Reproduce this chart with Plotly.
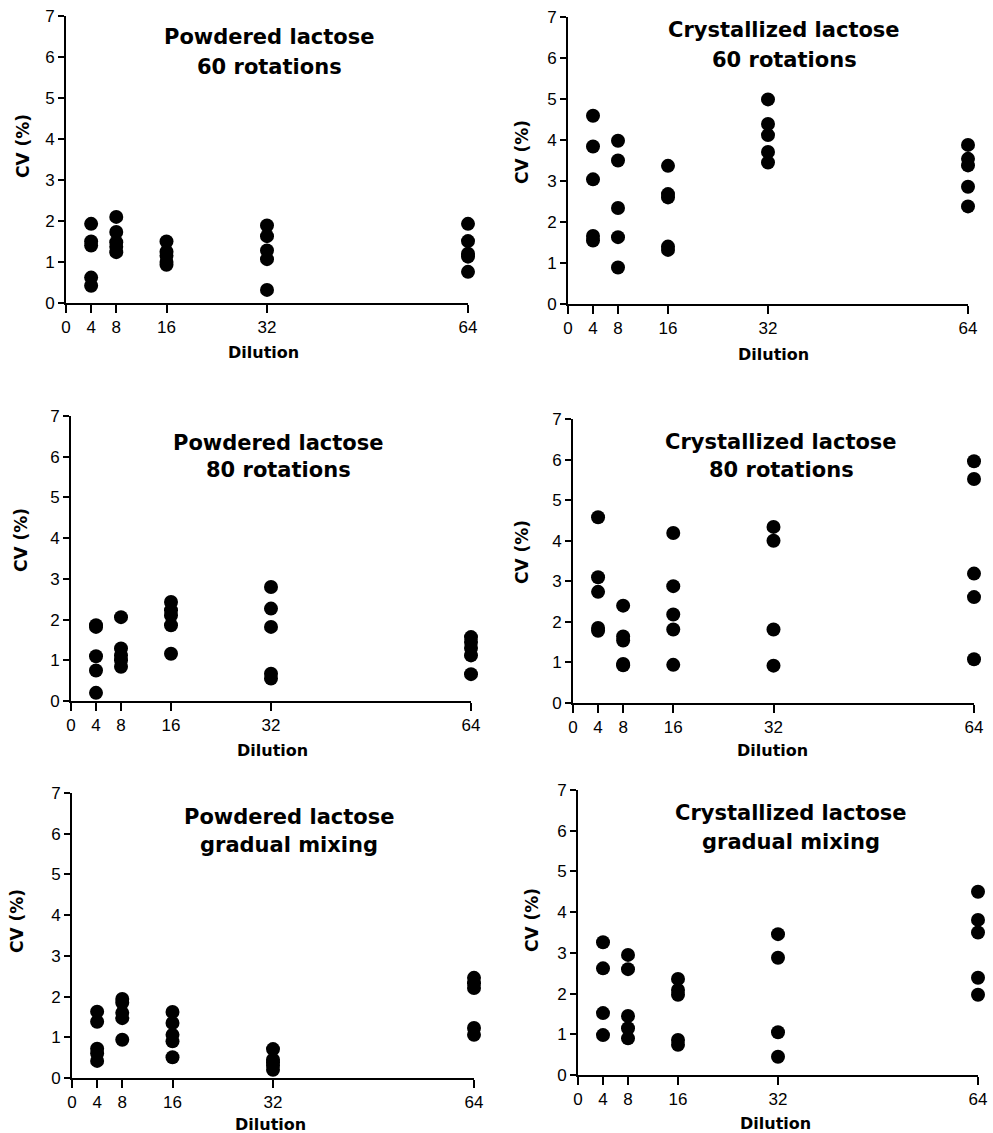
import plotly.graph_objects as go

W, H = 993, 1133

dilutions = [4, 8, 16, 32, 64]

title_line1 = ["Powdered lactose", "Crystallized lactose", "Powdered lactose",
               "Crystallized lactose", "Powdered lactose", "Crystallized lactose"]
title_line2 = ["60 rotations", "60 rotations", "80 rotations",
               "80 rotations", "gradual mixing", "gradual mixing"]

# CV (%) values per dilution, one dict per panel
powdered_60 = {
    4: [1.93, 1.50, 1.40, 0.62, 0.42],
    8: [2.10, 1.73, 1.48, 1.37, 1.24],
    16: [1.50, 1.25, 1.15, 1.00, 0.93],
    32: [1.89, 1.63, 1.28, 1.07, 0.32],
    64: [1.93, 1.51, 1.20, 1.13, 0.76],
}
crystallized_60 = {
    4: [4.59, 3.84, 3.04, 1.66, 1.55],
    8: [3.98, 3.50, 2.34, 1.63, 0.89],
    16: [3.37, 2.68, 2.60, 1.40, 1.32],
    32: [4.99, 4.39, 4.12, 3.71, 3.45],
    64: [3.88, 3.54, 3.38, 2.86, 2.38],
}
powdered_80 = {
    4: [1.86, 1.82, 1.10, 0.75, 0.20],
    8: [2.06, 1.29, 1.12, 1.00, 0.84],
    16: [2.43, 2.23, 2.10, 1.86, 1.16],
    32: [2.80, 2.27, 1.82, 0.67, 0.55],
    64: [1.57, 1.45, 1.30, 1.12, 0.66],
}
crystallized_80 = {
    4: [4.58, 3.10, 2.74, 1.85, 1.78],
    8: [2.40, 1.64, 1.54, 0.96, 0.93],
    16: [4.19, 2.88, 2.18, 1.81, 0.94],
    32: [4.34, 4.00, 1.81, 0.92],
    64: [5.96, 5.52, 3.19, 2.61, 1.08],
}
powdered_gradual = {
    4: [1.63, 1.38, 0.72, 0.60, 0.42],
    8: [1.94, 1.85, 1.60, 1.47, 0.94],
    16: [1.62, 1.35, 1.06, 0.90, 0.51],
    32: [0.71, 0.45, 0.38, 0.30, 0.20],
    64: [2.46, 2.33, 2.21, 1.23, 1.06],
}
crystallized_gradual = {
    4: [3.26, 2.62, 1.52, 0.98],
    8: [2.95, 2.60, 1.45, 1.15, 0.90],
    16: [2.36, 2.09, 1.97, 0.86, 0.74],
    32: [3.46, 2.88, 1.05, 0.45],
    64: [4.50, 3.81, 3.50, 2.39, 1.97],
}

panels = [powdered_60, crystallized_60, powdered_80,
          crystallized_80, powdered_gradual, crystallized_gradual]

x_ticks = [0, 4, 8, 16, 32, 64]
x_tick_text = ["0", "4", "8", "16", "32", "64"]
y_ticks = [0, 1, 2, 3, 4, 5, 6, 7]

# layout in page pixels
boxes = [  # (left, right, bottom, top) of plot area
    (66, 468, 303, 16),
    (568, 968, 304, 17),
    (71, 471, 701, 416),
    (573, 974, 703, 419),
    (72, 474, 1078, 793),
    (578, 978, 1075, 790),
]
title_xy = [(269, 37, 67), (784, 30, 60), (278, 443, 470),
            (781, 442, 470), (289, 817, 845), (791, 813, 842)]
dil_xy = [(263, 353), (773, 355), (272, 750), (772, 750), (270, 1124), (775, 1123)]
cv_xy = [(23, 146), (522, 152), (21, 540), (522, 552), (17, 921), (532, 920)]


def px(x):
    return x / W


def py(y):
    return 1 - y / H


TICK_FONT = dict(family="Liberation Sans, Arial, sans-serif", size=17, color="black")
BOLD = "DejaVu Sans, Verdana, sans-serif"

fig = go.Figure()
annotations = []
for i, data in enumerate(panels):
    n = i + 1
    xs, ys = [], []
    for d in dilutions:
        for v in data[d]:
            xs.append(d)
            ys.append(v)
    xa = "x" if n == 1 else f"x{n}"
    ya = "y" if n == 1 else f"y{n}"
    fig.add_trace(go.Scatter(
        x=xs, y=ys, mode="markers", xaxis=xa, yaxis=ya,
        marker=dict(size=14, color="black"), cliponaxis=False,
        showlegend=False, hoverinfo="x+y",
    ))
    l, r, b, t = boxes[i]
    axis_common = dict(showgrid=False, zeroline=False, showline=True,
                       linecolor="black", linewidth=2, ticks="outside",
                       tickwidth=2, tickcolor="black", tickfont=TICK_FONT,
                       automargin=False, ticklabeloverflow="allow")
    fig.layout[f"xaxis{'' if n == 1 else n}"] = dict(
        domain=[px(l), px(r)], range=[0, 64], anchor=ya, tickmode="array",
        tickvals=x_ticks, ticktext=x_tick_text, ticklen=8, **axis_common)
    fig.layout[f"yaxis{'' if n == 1 else n}"] = dict(
        domain=[py(b), py(t)], range=[0, 7], anchor=xa, tickmode="array",
        tickvals=y_ticks, ticklen=6, **axis_common)
    tx, ty1, ty2 = title_xy[i]
    for txt, ty in ((title_line1[i], ty1), (title_line2[i], ty2)):
        annotations.append(dict(
            text=f"<b>{txt}</b>", x=px(tx), y=py(ty), xref="paper", yref="paper",
            xanchor="center", yanchor="middle", showarrow=False,
            font=dict(family=BOLD, size=21, color="black")))
    dx, dy = dil_xy[i]
    annotations.append(dict(
        text="<b>Dilution</b>", x=px(dx), y=py(dy),
        xref="paper", yref="paper", xanchor="center", yanchor="middle",
        showarrow=False, font=dict(family=BOLD, size=16, color="black")))
    cx, cy = cv_xy[i]
    annotations.append(dict(
        text="<b>CV (%)</b>", x=px(cx), y=py(cy),
        xref="paper", yref="paper", xanchor="center", yanchor="middle",
        textangle=-90, showarrow=False,
        font=dict(family=BOLD, size=17, color="black")))

fig.update_layout(
    template="none",
    width=W, height=H, margin=dict(l=0, r=0, t=0, b=0, pad=0, autoexpand=False),
    paper_bgcolor="white", plot_bgcolor="white",
    annotations=annotations,
)
fig.write_html(
    "out.html", config={"displayModeBar": False},
    post_script="document.body.style.margin='0';document.body.style.overflow='hidden';",
)
